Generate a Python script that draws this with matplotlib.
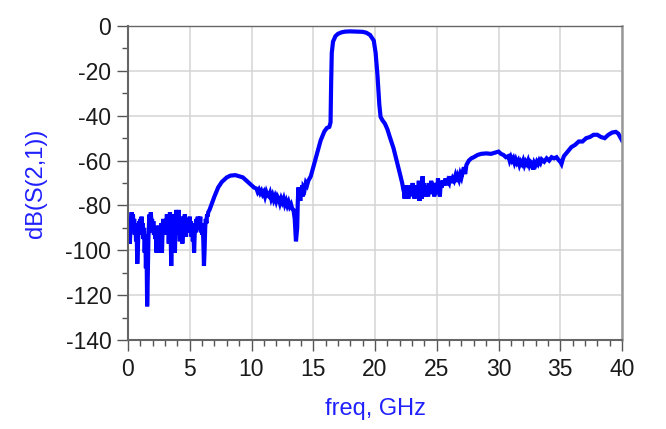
import matplotlib
matplotlib.use("Agg")
import matplotlib.pyplot as plt
import numpy as np
from matplotlib.ticker import MultipleLocator

plt.rcParams['font.family'] = ['Liberation Sans', 'DejaVu Sans']
plt.rcParams['axes.unicode_minus'] = False

# noisy stopband below the filter, 0 - 6.5 GHz (0.05 GHz steps)
freq_low = [round(0.05 * i, 2) for i in range(131)]
s21_low = [-88, -95, -92, -97, -90, -86, -83, -88, -84, -90,
           -86, -93, -88, -96, -90, -106, -98, -91, -87, -93,
           -86, -91, -85, -92, -88, -95, -90, -101, -93, -108,
           -97, -125, -112, -95, -88, -84, -90, -83, -88, -86,
           -92, -87, -93, -89, -95, -90, -101, -92, -101, -94,
           -89, -101, -92, -96, -88, -101, -91, -86, -92, -87,
           -93, -86, -90, -84, -92, -86, -97, -88, -83, -91,
           -107, -94, -85, -90, -84, -95, -101, -88, -82, -90,
           -85, -93, -82, -89, -96, -87, -93, -85, -97, -90,
           -86, -92, -84, -89, -94, -87, -91, -86, -92, -88,
           -85, -91, -87, -94, -89, -96, -91, -101, -93, -88,
           -92, -86, -90, -85, -91, -87, -89, -85, -92, -88,
           -93, -89, -96, -107, -100, -90, -86, -88, -84, -85,
           -83]

# spurious hump, passband and upper skirt, 6.6 - 22.3 GHz
freq_mid = [6.6, 6.8, 7.0, 7.3, 7.6, 8.0, 8.3, 8.7, 9.0, 9.3,
            9.6, 9.8, 10.0, 10.2, 10.4, 10.5, 10.6, 10.7, 10.8, 10.9,
            11.0, 11.1, 11.2, 11.3, 11.4, 11.5, 11.6, 11.7, 11.8, 11.9,
            12.0, 12.1, 12.2, 12.3, 12.4, 12.5, 12.6, 12.7, 12.8, 12.9,
            13.0, 13.1, 13.2, 13.3, 13.4, 13.5, 13.6, 13.7, 13.75, 13.8,
            13.85, 13.9, 13.95, 14.0, 14.05, 14.1, 14.15, 14.2, 14.3, 14.4,
            14.5, 14.6, 14.8, 15.0, 15.3, 15.6, 15.9, 16.1, 16.3, 16.4,
            16.45, 16.5, 16.6, 16.8, 17.0, 17.3, 17.6, 18.0, 18.5, 19.0,
            19.3, 19.6, 19.9, 20.05, 20.2, 20.35, 20.45, 20.6, 20.8, 21.0,
            21.2, 21.5, 21.8, 22.0, 22.2, 22.3]
s21_mid = [-82, -79, -76, -72, -69.5, -67.5, -66.7, -66.5, -67, -67.5,
           -69, -70, -71, -72, -72.5, -74, -73, -74.5, -73.5, -75,
           -74, -76, -74, -75.5, -76, -74.5, -77, -75.5, -77.5, -76,
           -78, -76, -77, -79, -77, -78.5, -77, -79.5, -78, -80,
           -78.5, -80.5, -79.5, -81.5, -82, -86, -96, -90, -78, -72,
           -77, -73, -78, -72, -75, -71, -76, -72, -73, -70,
           -71, -69, -67, -63, -57, -51, -47, -45.5, -45, -43,
           -25, -12, -7, -4.5, -3.5, -2.8, -2.5, -2.4, -2.5, -2.6,
           -3.0, -4.0, -6.5, -12, -22, -35, -40.5, -42, -43.5, -46,
           -49.5, -54.5, -61, -65.5, -70, -73]

# upper stopband, 22.35 - 40 GHz
freq_high = [22.35, 22.4, 22.45, 22.5, 22.55, 22.6, 22.65, 22.7, 22.75, 22.8,
             22.85, 22.9, 22.95, 23.0, 23.05, 23.1, 23.15, 23.2, 23.25, 23.3,
             23.35, 23.4, 23.45, 23.5, 23.55, 23.6, 23.65, 23.7, 23.75, 23.8,
             23.85, 23.9, 23.95, 24.0, 24.05, 24.1, 24.15, 24.2, 24.25, 24.3,
             24.35, 24.4, 24.45, 24.5, 24.55, 24.6, 24.65, 24.7, 24.75, 24.8,
             24.85, 24.9, 24.95, 25.0, 25.05, 25.1, 25.15, 25.2, 25.25, 25.3,
             25.35, 25.4, 25.5, 25.6, 25.7, 25.8, 25.9, 26.0, 26.1, 26.2,
             26.3, 26.4, 26.5, 26.6, 26.7, 26.8, 26.9, 27.0, 27.1, 27.2,
             27.3, 27.4, 27.6, 27.8, 28.0, 28.3, 28.6, 29.0, 29.4, 29.7,
             30.0, 30.2, 30.4, 30.6, 30.8, 30.9, 31.0, 31.1, 31.2, 31.3,
             31.4, 31.5, 31.6, 31.7, 31.8, 31.9, 32.0, 32.1, 32.2, 32.3,
             32.4, 32.5, 32.6, 32.7, 32.8, 32.9, 33.0, 33.1, 33.2, 33.3,
             33.4, 33.5, 33.7, 33.9, 34.1, 34.3, 34.5, 34.7, 34.9, 35.0,
             35.1, 35.2, 35.3, 35.6, 35.9, 36.2, 36.5, 36.8, 37.1, 37.4,
             37.7, 38.0, 38.3, 38.6, 38.9, 39.2, 39.5, 39.7, 40.0]
s21_high = [-74, -77, -73, -76, -71, -75, -72, -77, -73, -76,
            -72, -75, -71, -74, -70, -75, -72, -77, -73, -76,
            -71, -75, -72, -74, -69, -78, -74, -76, -72, -77,
            -67, -73, -70, -76, -72, -75, -71, -74, -72, -76,
            -70, -73, -71, -75, -69, -73, -70, -74, -71, -76,
            -70, -75, -72, -70, -74, -68, -73, -70, -76, -72,
            -69, -72, -69, -71, -68, -71, -69, -70, -67, -70,
            -68, -69, -67, -69.5, -67, -68.5, -66, -67.5, -65, -63,
            -66, -62, -60, -59, -58.5, -57.5, -57, -56.8, -57, -56.5,
            -56, -57, -57.5, -58.5, -58, -60, -58.5, -60, -59, -61,
            -59.5, -61, -60, -62, -60.5, -61.5, -60, -62, -60.5, -61.5,
            -60, -62, -60.5, -61, -64, -61, -62, -60.5, -61.5, -60,
            -61, -59.5, -60.5, -59, -60, -58.5, -59, -58.5, -60, -60.5,
            -61.5, -59.5, -58, -56, -54, -53, -51.5, -51.5, -50, -49.5,
            -48.5, -48.5, -49.5, -50, -48.5, -47.5, -47.2, -48, -51]

freq = np.array(freq_low + freq_mid + freq_high)
s21 = np.array(s21_low + s21_mid + s21_high)

fig = plt.figure(figsize=(6.66, 4.29), dpi=100)
ax = fig.add_axes([128 / 666, 1 - 340 / 429, (622 - 128) / 666, (340 - 26) / 429])

ax.plot(freq, s21, color='#0000ff', linewidth=3.0, solid_joinstyle='miter')

ax.set_xlim(0, 40)
ax.set_ylim(-140, 0)
ax.xaxis.set_major_locator(MultipleLocator(5))
ax.xaxis.set_minor_locator(MultipleLocator(1))
ax.yaxis.set_major_locator(MultipleLocator(20))
ax.yaxis.set_minor_locator(MultipleLocator(10))

ax.grid(which='major', color='#d4d4d4', linewidth=1.1)
ax.set_axisbelow(True)

ax.tick_params(which='major', direction='out', color='#555555', width=1.0,
               labelsize=16.5, labelcolor='#1a1a1a')
ax.tick_params(axis='x', which='major', length=8, pad=5)
ax.tick_params(axis='y', which='major', length=8, pad=4)
ax.tick_params(which='minor', direction='out', length=4.5, width=1.0, color='#555555')

for side in ['left', 'bottom']:
    ax.spines[side].set_color('#666666')
    ax.spines[side].set_linewidth(1.5)
ax.spines['top'].set_color('#666666')
ax.spines['top'].set_linewidth(1.0)
ax.spines['right'].set_color('#999999')
ax.spines['right'].set_linewidth(1.8)

ax.set_xlabel('freq, GHz', fontsize=17, color='#2020ff', labelpad=12)
ax.set_ylabel('dB(S(2,1))', fontsize=17, color='#2020ff', labelpad=13)

fig.savefig('out.png', dpi=100)
